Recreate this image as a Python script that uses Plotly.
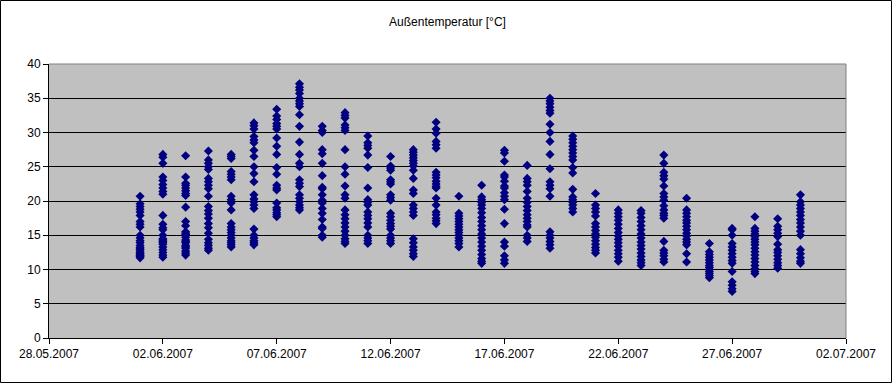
import plotly.graph_objects as go

title_text = "Außentemperatur [°C]"
x_tick_labels = ["28.05.2007", "02.06.2007", "07.06.2007", "12.06.2007",
                 "17.06.2007", "22.06.2007", "27.06.2007", "02.07.2007"]
x_tick_dates = ["2007-05-28", "2007-06-02", "2007-06-07", "2007-06-12",
                "2007-06-17", "2007-06-22", "2007-06-27", "2007-07-02"]
y_ticks = [0, 5, 10, 15, 20, 25, 30, 35, 40]

dates = ["2007-06-%02d" % d for d in range(1, 31)]

jun01 = [20.7, 19.6, 19.2, 18.8, 18.4, 17.9, 17.0, 16.6, 16.2, 15.0, 14.6, 14.2, 13.9, 13.5, 13.2, 12.9, 12.6, 12.3, 12.1, 11.9, 11.7, 12.0, 12.4, 13.0]
jun02 = [26.8, 26.4, 25.5, 23.5, 23.0, 22.4, 21.9, 21.4, 21.0, 17.9, 16.6, 16.1, 15.8, 15.0, 14.5, 14.1, 13.7, 13.3, 12.9, 12.5, 12.1, 11.8, 13.9, 14.3]
jun03 = [26.6, 23.5, 22.6, 22.3, 21.9, 21.5, 21.1, 20.8, 19.1, 17.0, 16.4, 15.5, 15.1, 14.7, 14.3, 13.9, 13.5, 13.1, 12.7, 12.4, 12.1, 13.3, 14.1, 15.3]
jun04 = [27.3, 26.0, 25.5, 25.0, 24.6, 23.3, 22.8, 22.3, 21.8, 20.7, 19.2, 18.6, 18.1, 17.5, 16.7, 16.1, 15.3, 14.4, 13.9, 13.5, 13.1, 12.8]
jun05 = [26.8, 26.5, 26.2, 24.3, 23.9, 23.5, 23.1, 20.7, 20.2, 19.7, 18.7, 16.7, 16.2, 15.8, 15.4, 15.0, 14.6, 14.2, 13.9, 13.6, 13.3]
jun06 = [31.4, 31.0, 30.5, 29.4, 28.9, 28.5, 27.4, 26.5, 25.0, 24.0, 22.8, 20.9, 20.3, 19.9, 19.4, 18.9, 15.9, 15.0, 14.6, 14.2, 13.9, 13.6]
jun07 = [33.4, 32.4, 31.9, 31.3, 30.9, 30.5, 29.2, 28.0, 26.8, 24.9, 23.9, 22.3, 21.9, 21.6, 19.7, 19.0, 18.7, 18.3, 18.0, 17.7]
jun08 = [37.1, 36.6, 36.2, 35.7, 35.0, 34.6, 34.2, 33.8, 32.6, 30.9, 28.6, 26.8, 25.5, 25.0, 23.1, 22.6, 22.1, 20.9, 20.4, 19.9, 19.4, 19.0, 18.7]
jun09 = [30.9, 30.3, 30.0, 27.5, 26.9, 25.5, 23.7, 22.0, 21.8, 20.9, 20.1, 19.7, 18.9, 18.2, 17.3, 16.2, 16.0, 15.0, 14.7]
jun10 = [32.9, 32.5, 32.1, 31.1, 30.7, 30.3, 27.5, 25.0, 23.9, 22.2, 20.9, 20.4, 18.7, 18.0, 17.4, 16.8, 16.2, 15.6, 15.0, 14.5, 14.1, 13.8]
jun11 = [29.5, 28.5, 28.1, 27.7, 26.7, 24.9, 21.9, 20.2, 19.8, 19.4, 18.4, 17.9, 17.4, 16.8, 16.2, 15.0, 14.6, 14.2, 13.8]
jun12 = [26.5, 25.1, 24.8, 24.5, 23.1, 22.8, 22.5, 20.9, 20.5, 20.1, 18.2, 17.7, 17.2, 16.7, 16.3, 15.9, 15.0, 14.6, 14.2, 13.8]
jun13 = [27.5, 27.1, 26.7, 26.3, 25.9, 25.5, 25.1, 24.5, 23.3, 21.6, 21.1, 19.4, 18.9, 18.4, 17.9, 14.5, 13.9, 13.3, 12.8, 12.3, 11.9]
jun14 = [31.5, 30.5, 29.9, 28.7, 28.2, 27.7, 24.2, 23.8, 23.4, 22.9, 22.5, 22.1, 21.9, 20.4, 19.4, 18.4, 18.0, 17.5, 17.1, 16.7]
jun15 = [20.7, 18.2, 17.8, 17.4, 17.0, 16.6, 16.2, 15.8, 15.4, 15.0, 14.6, 14.2, 13.8, 13.3]
jun16 = [22.3, 20.6, 20.2, 19.8, 19.4, 18.9, 18.3, 17.6, 17.0, 16.4, 15.8, 15.2, 14.6, 14.0, 13.4, 12.8, 12.2, 11.6, 11.2, 10.9]
jun17 = [27.4, 27.0, 25.8, 23.8, 23.5, 22.9, 22.2, 21.9, 21.2, 20.7, 20.2, 18.8, 16.7, 14.0, 13.4, 12.0, 11.4, 10.9]
jun18 = [25.2, 23.3, 22.8, 22.3, 21.4, 20.4, 19.8, 19.2, 18.6, 18.0, 17.5, 17.0, 16.5, 16.2, 15.0, 14.6, 14.1]
jun19 = [35.0, 34.6, 34.2, 33.7, 33.2, 32.8, 31.2, 30.0, 28.7, 26.8, 24.7, 22.8, 22.3, 21.8, 20.7, 15.5, 15.0, 14.6, 14.1, 13.6, 13.1]
jun20 = [29.5, 29.0, 28.5, 28.0, 27.5, 27.0, 26.5, 26.0, 24.9, 24.1, 21.7, 20.6, 20.2, 19.8, 19.4, 18.9, 18.4]
jun21 = [21.1, 19.4, 18.9, 18.4, 17.8, 16.7, 16.2, 15.7, 15.2, 14.7, 14.2, 13.7, 13.2, 12.8, 12.4]
jun22 = [18.7, 18.2, 17.7, 17.2, 16.6, 16.0, 15.4, 14.9, 14.4, 13.9, 13.4, 12.8, 12.3, 11.8, 11.2]
jun23 = [18.6, 18.2, 17.6, 17.0, 16.4, 15.8, 15.2, 14.6, 14.0, 13.5, 13.0, 12.4, 11.9, 11.4, 11.0, 10.6]
jun24 = [26.7, 25.5, 24.2, 23.7, 23.2, 22.2, 21.1, 20.6, 20.1, 19.3, 18.7, 18.2, 17.9, 17.5, 14.1, 12.8, 12.4, 12.0, 11.5, 11.1]
jun25 = [20.4, 18.7, 18.2, 17.7, 17.2, 16.8, 16.3, 15.8, 15.3, 14.9, 14.4, 14.0, 13.6, 12.3, 11.1]
jun26 = [13.8, 12.6, 12.2, 11.8, 11.4, 11.0, 10.6, 10.3, 10.0, 9.7, 9.4, 9.1, 8.8]
jun27 = [16.0, 15.8, 15.0, 13.8, 13.3, 12.8, 12.3, 11.8, 11.3, 10.9, 9.7, 8.2, 7.7, 7.2, 6.8]
jun28 = [17.7, 16.0, 15.6, 15.2, 14.8, 14.4, 14.0, 13.6, 13.1, 12.6, 12.1, 11.6, 11.1, 10.6, 10.1, 9.7, 9.4]
jun29 = [17.4, 16.3, 15.8, 15.3, 14.8, 13.7, 12.9, 12.5, 12.0, 11.5, 11.0, 10.6, 10.2]
jun30 = [20.9, 19.9, 19.4, 18.9, 18.4, 17.9, 17.3, 16.8, 16.2, 15.6, 15.0, 12.9, 12.3, 11.7, 11.2, 10.9]

days = [jun01, jun02, jun03, jun04, jun05, jun06, jun07, jun08, jun09, jun10,
        jun11, jun12, jun13, jun14, jun15, jun16, jun17, jun18, jun19, jun20,
        jun21, jun22, jun23, jun24, jun25, jun26, jun27, jun28, jun29, jun30]

xs, ys = [], []
for d, vals in zip(dates, days):
    for v in vals:
        xs.append(d)
        ys.append(v)

W, H = 893, 384
ml, mr, mt, mb = 49, 47, 64, 46
pw, ph = W - ml - mr, H - mt - mb

fig = go.Figure()
fig.add_trace(go.Scatter(
    x=xs, y=ys, mode="markers",
    marker=dict(symbol="diamond", size=7, color="#000080", line=dict(width=0)),
    showlegend=False, hoverinfo="x+y"))

font = dict(family="Liberation Sans, Arial, sans-serif", size=12, color="black")

fig.update_layout(
    width=W, height=H,
    margin=dict(l=ml, r=mr, t=mt, b=mb, pad=0),
    paper_bgcolor="white", plot_bgcolor="#C0C0C0",
    font=font,
    title=dict(text=title_text, x=0.5, xref="paper", xanchor="center",
               y=1 - 22 / H, yref="container", yanchor="middle",
               font=dict(family="Liberation Sans, Arial, sans-serif", size=12, color="black")),
    xaxis=dict(type="date", range=["2007-05-28", "2007-07-02"],
               tickvals=x_tick_dates, ticktext=x_tick_labels,
               showgrid=False, zeroline=False, showline=True, linecolor="black", linewidth=1,
               ticks="outside", ticklen=5, tickcolor="black", tickfont=font),
    yaxis=dict(range=[0, 40], tickvals=y_ticks, showgrid=True, gridcolor="black", gridwidth=1,
               zeroline=False, showline=True, linecolor="black", linewidth=1,
               ticks="outside", ticklen=5, tickcolor="black", tickfont=font),
    shapes=[
        dict(type="line", xref="paper", yref="paper", x0=0, x1=1, y0=1, y1=1,
             line=dict(color="#808080", width=1)),
        dict(type="line", xref="paper", yref="paper", x0=1, x1=1, y0=0, y1=1,
             line=dict(color="#808080", width=1)),
        dict(type="rect", xref="paper", yref="paper",
             x0=(0.5 - ml) / pw, x1=(W - 1.5 - ml) / pw,
             y0=(1.5 - mb) / ph, y1=(H - mb - 0.5) / ph,
             line=dict(color="black", width=1), layer="below"),
    ],
)

fig.write_html("out.html", config={"displayModeBar": False},
               post_script="document.body.style.margin='0';document.body.style.overflow='hidden';")
